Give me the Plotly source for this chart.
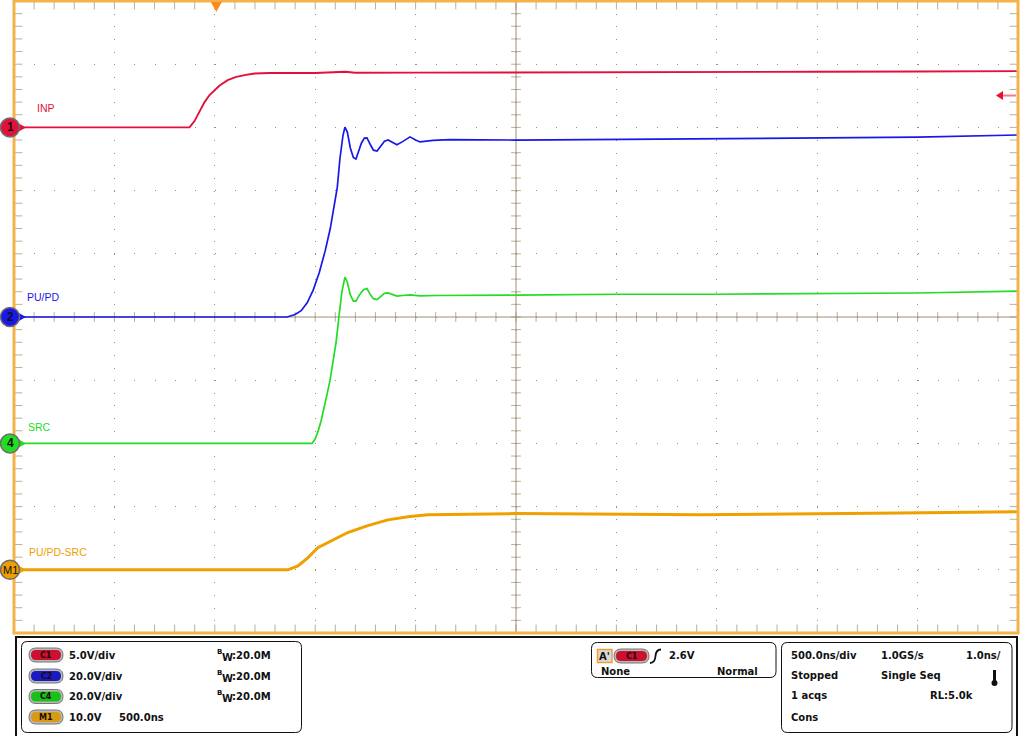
import plotly.graph_objects as go

# ---------------- data (read from the scope screen) ----------------
# time in ns (500 ns/div, trigger at t=0 = 2nd division), voltages in V
inp_t = [-1000, -126, -101, -76, -51, -26, 0, 24, 64, 103, 148, 198, 273, 500, 650, 700,
         1000, 1500, 2000, 2500, 3000, 3500, 4000]
inp_v = [0.0, 0.0, 0.5, 1.29, 2.0, 2.56, 2.95, 3.31, 3.74, 3.98, 4.14, 4.26, 4.30, 4.30, 4.40, 4.32,
         4.33, 4.36, 4.37, 4.38, 4.40, 4.42, 4.45]

pupd_t = [-1000, 360, 400, 430, 460, 490, 520, 550, 575, 595,
          610, 623, 638, 648, 660, 675, 690, 703, 715, 730,
          745, 758, 775, 790, 808, 825, 845, 863, 885, 907,
          935, 972, 1000, 1022, 1087, 1171, 1500, 2000, 2500, 3000,
          3500, 4000]
pupd_v = [0, 0, 0.8, 2.0, 4.5, 8.5, 14, 21, 28, 35,
          41, 50, 57.3, 60.1, 58.5, 53.5, 50.5, 50.0, 52, 55,
          56.6, 56.7, 54.5, 52.8, 52.5, 54, 55.6, 56.0, 55.2, 54.5,
          55.5, 57.0, 56, 55.4, 55.9, 56.1, 56.0, 56.2, 56.3, 56.6,
          56.9, 57.6]

src_t = [-1000, 484, 499, 514, 529, 544, 559, 574, 589, 604,
         618, 633, 648, 660, 675, 690, 703, 720, 740, 758,
         775, 790, 808, 825, 845, 863, 885, 907, 935, 972,
         1022, 1100, 1500, 2000, 2500, 3000, 3500, 4000]
src_v = [0, 0, 1.3, 3.8, 7.0, 11, 15.5, 20, 25.5, 32,
         40, 48, 52.6, 51, 47, 45, 45, 47, 48.6, 49,
         47, 45.8, 45.5, 46.5, 47.5, 47.6, 47, 46.6, 46.8, 47,
         46.7, 46.8, 46.9, 47.2, 47.2, 47.5, 47.6, 48.2]

m1_t = [-1000, 364, 414, 463, 513, 588, 662, 762, 862, 961, 1061, 1500, 2416, 3412, 4000]
m1_v = [0, 0, 0.6, 1.9, 3.5, 4.7, 5.9, 7.0, 7.9, 8.4, 8.7, 8.9, 8.7, 9.0, 9.2]

ch_names = ["INP", "PU/PD", "SRC", "PU/PD-SRC"]
ch_badges = ["1", "2", "4", "M1"]
ch_scale = [5.0, 20.0, 20.0, 10.0]      # V/div
ch_pos = [3.0, 0.0, -2.0, -4.0]         # ground marker position, div
ch_times = [inp_t, pupd_t, src_t, m1_t]
ch_values = [inp_v, pupd_v, src_v, m1_v]
ch_colors = ["#E3103A", "#1818E8", "#22DD22", "#EEA000"]
ch_widths = [1.9, 1.7, 1.7, 3.0]

trigger_level_v = 2.6

# panel texts
vdiv_labels = ["5.0V/div", "20.0V/div", "20.0V/div", "10.0V"]
bw_label = ":20.0M"
badge_labels = ["C1", "C2", "C4", "M1"]
badge_colors = ["#CC1030", "#1A1AC0", "#18C018", "#D89A10"]

# ---------------- figure ----------------
L, T, W, H = 14, 1, 1004, 632
def PX(x):
    return (x - L) / W
def PY(y):
    return (T + H - y) / H

GRID = "#9C9070"
BORDER = "#F6B24A"

fig = go.Figure()

# minor tick marks on centre cross and borders
minor_x = [-1000 + 100 * i for i in range(51)]
minor_y = [-5 + 0.2 * j for j in range(51)]
fig.add_trace(go.Scatter(
    x=minor_x * 3, y=[0] * 51 + [5] * 51 + [-5] * 51, mode="markers",
    marker=dict(symbol="line-ns", size=[7] * 51 + [12] * 102, color=GRID,
                line=dict(color=GRID, width=1)),
    hoverinfo="skip", showlegend=False))
fig.add_trace(go.Scatter(
    x=[1500] * 51 + [-1000] * 51 + [4000] * 51, y=minor_y * 3, mode="markers",
    marker=dict(symbol="line-ew", size=[7] * 51 + [12] * 102, color=GRID,
                line=dict(color=GRID, width=1)),
    hoverinfo="skip", showlegend=False))

for t, v, sc, pos, col, wd, nm in zip(ch_times, ch_values, ch_scale, ch_pos, ch_colors, ch_widths, ch_names):
    fig.add_trace(go.Scatter(x=t, y=[pos + vi / sc for vi in v], mode="lines",
                             line=dict(color=col, width=wd), name=nm,
                             hoverinfo="skip", showlegend=False))

shapes = []
ann = []

# centre cross
shapes.append(dict(type="line", xref="x", yref="y", x0=1500, x1=1500, y0=-5, y1=5,
                   line=dict(color=GRID, width=1), layer="below"))
shapes.append(dict(type="line", xref="x", yref="y", x0=-1000, x1=4000, y0=0, y1=0,
                   line=dict(color=GRID, width=1), layer="below"))
# graticule border
shapes.append(dict(type="rect", xref="paper", yref="paper", x0=0, x1=1, y0=0, y1=1,
                   line=dict(color=BORDER, width=3)))

def path(pts, close=True):
    s = "M " + " L ".join(f"{PX(x)},{PY(y)}" for x, y in pts)
    return s + (" Z" if close else "")

def rrect(x0, y0, x1, y1, r):
    P = lambda x, y: f"{PX(x)},{PY(y)}"
    return (f"M {P(x0 + r, y0)} L {P(x1 - r, y0)} Q {P(x1, y0)} {P(x1, y0 + r)} "
            f"L {P(x1, y1 - r)} Q {P(x1, y1)} {P(x1 - r, y1)} L {P(x0 + r, y1)} "
            f"Q {P(x0, y1)} {P(x0, y1 - r)} L {P(x0, y0 + r)} Q {P(x0, y0)} {P(x0 + r, y0)} Z")

# trigger position marker (top) at t=0
tx = L + (0 - (-1000)) / 5000 * W
shapes.append(dict(type="path", xref="paper", yref="paper",
                   path=path([(tx - 4, 2), (tx + 7, 2), (tx + 1.5, 12)]),
                   fillcolor="#FF8A1A", line=dict(width=0)))
# trigger level arrow (right)
ty = T + H * (5 - (ch_pos[0] + trigger_level_v / ch_scale[0])) / 10 + 1
shapes.append(dict(type="line", xref="paper", yref="paper", x0=PX(1002), x1=PX(1016),
                   y0=PY(ty), y1=PY(ty), line=dict(color="#F27A8A", width=2)))
shapes.append(dict(type="path", xref="paper", yref="paper",
                   path=path([(996, ty), (1003, ty - 4.5), (1003, ty + 4.5)]),
                   fillcolor="#E8102C", line=dict(width=0)))

# channel ground markers and labels
label_offsets = [(35, -19), (25, -20), (26, -16), (27, -18)]
for pos, col, badge, nm, (lx, dy) in zip(ch_pos, ch_colors, ch_badges, ch_names, label_offsets):
    yc = T + H * (5 - pos) / 10
    shapes.append(dict(type="path", xref="paper", yref="paper",
                       path=path([(17, yc - 5), (26, yc), (17, yc + 5)]),
                       fillcolor=col, line=dict(width=0)))
    shapes.append(dict(type="circle", xref="paper", yref="paper",
                       x0=PX(0.5), x1=PX(19.5), y0=PY(yc + 9.5), y1=PY(yc - 9.5),
                       fillcolor=col, line=dict(color="#6E6E6E", width=1.5)))
    ann.append(dict(x=PX(10), y=PY(yc), text=badge, showarrow=False, xref="paper", yref="paper",
                    xanchor="center", yanchor="middle",
                    font=dict(family="Liberation Sans", size=12 if len(badge) == 1 else 11,
                              color="#111111", weight="bold" if len(badge) == 1 else "normal")))
    ann.append(dict(x=PX(lx), y=PY(yc + dy), text=nm, showarrow=False, xref="paper", yref="paper",
                    xanchor="left", yanchor="middle",
                    font=dict(family="Liberation Sans", size=10.5, color=col)))

# ---------------- bottom info panel ----------------
shapes.append(dict(type="rect", xref="paper", yref="paper", x0=PX(16), x1=PX(1017),
                   y0=PY(742), y1=PY(637), line=dict(color="#111111", width=2)))
for (x0, y0, x1, y1) in [(21.5, 641.5, 301.5, 732.5), (591.5, 642.5, 776, 677.5),
                         (781.5, 642.5, 1012, 732.5)]:
    shapes.append(dict(type="path", xref="paper", yref="paper", path=rrect(x0, y0, x1, y1, 6),
                       line=dict(color="#111111", width=1), fillcolor="rgba(0,0,0,0)"))

PF = dict(family="DejaVu Sans", size=10, color="#111111", weight="bold")

def text(x, y, s, anchor="left", font=None):
    ann.append(dict(x=PX(x), y=PY(y), text=s, showarrow=False, xref="paper", yref="paper",
                    xanchor=anchor, yanchor="middle", font=font or PF))

def pill(x0, x1, yc, color, label):
    shapes.append(dict(type="path", xref="paper", yref="paper",
                       path=rrect(x0, yc - 7, x1, yc + 7, 7),
                       fillcolor="#B8B8B8", line=dict(color="#777777", width=1)))
    shapes.append(dict(type="path", xref="paper", yref="paper",
                       path=rrect(x0 + 2, yc - 5, x1 - 2, yc + 5, 5),
                       fillcolor=color, line=dict(width=0)))
    text((x0 + x1) / 2, yc, label, "center",
         dict(family="DejaVu Sans", size=8, color="#1A0A0A", weight="bold"))

rows = [655, 676, 696.5, 717]
for yc, col, lab, vd in zip(rows, badge_colors, badge_labels, vdiv_labels):
    pill(29, 63, yc, col, lab)
    text(67, yc, vd)
for yc in rows[:3]:
    text(214.5, yc - 3.5, "B", font=dict(family="DejaVu Sans", size=7, color="#111111", weight="bold"))
    text(219.5, yc + 2, "W")
    text(230, yc, bw_label)
text(117, rows[3], "500.0ns")

# trigger box
shapes.append(dict(type="rect", xref="paper", yref="paper", x0=PX(597.5), x1=PX(612),
                   y0=PY(662.5), y1=PY(649.5), fillcolor="#D8D8D8",
                   line=dict(color="#F0A030", width=1.5)))
text(604.8, 656, "A'", "center")
pill(614, 649, 656, badge_colors[0], "C1")
shapes.append(dict(type="path", xref="paper", yref="paper",
                   path=(f"M {PX(650)},{PY(663)} Q {PX(655)},{PY(663)} {PX(655.5)},{PY(656)} "
                         f"Q {PX(656)},{PY(649.5)} {PX(661)},{PY(649.5)}"),
                   line=dict(color="#111111", width=1.8)))
text(667, 655.5, f"{trigger_level_v}V")
text(599, 671.5, "None")
text(715, 671.5, "Normal")

# timebase box
text(789, 655, "500.0ns/div")
text(879, 655, "1.0GS/s")
text(964, 655, "1.0ns/")
text(789, 675.7, "Stopped")
text(879, 675.7, "Single Seq")
text(789, 695.7, "1 acqs")
text(928, 695.7, "RL:5.0k")
text(789, 717.3, "Cons")
# thermometer icon
shapes.append(dict(type="line", xref="paper", yref="paper", x0=PX(994.5), x1=PX(994.5),
                   y0=PY(681), y1=PY(670), line=dict(color="#111111", width=3)))
shapes.append(dict(type="circle", xref="paper", yref="paper", x0=PX(991.5), x1=PX(997.5),
                   y0=PY(686), y1=PY(680), fillcolor="#111111", line=dict(width=0)))

fig.update_layout(
    width=1024, height=736,
    margin=dict(l=L, r=1024 - L - W, t=T, b=736 - T - H),
    paper_bgcolor="white", plot_bgcolor="white",
    showlegend=False,
    xaxis=dict(range=[-1000, 4000], tick0=-1000, dtick=500, showgrid=True, gridcolor=GRID,
               gridwidth=1, griddash="1px,11.64px", showticklabels=False, ticks="",
               zeroline=False, showline=False, fixedrange=True),
    yaxis=dict(range=[-5, 5], tick0=-5, dtick=1, showgrid=True, gridcolor=GRID,
               gridwidth=1, griddash="1px,19.08px", showticklabels=False, ticks="",
               zeroline=False, showline=False, fixedrange=True),
    shapes=shapes, annotations=ann,
)

fig.write_html("out.html", config={"displayModeBar": False},
               post_script="document.body.style.margin='0';document.body.style.overflow='hidden';")
